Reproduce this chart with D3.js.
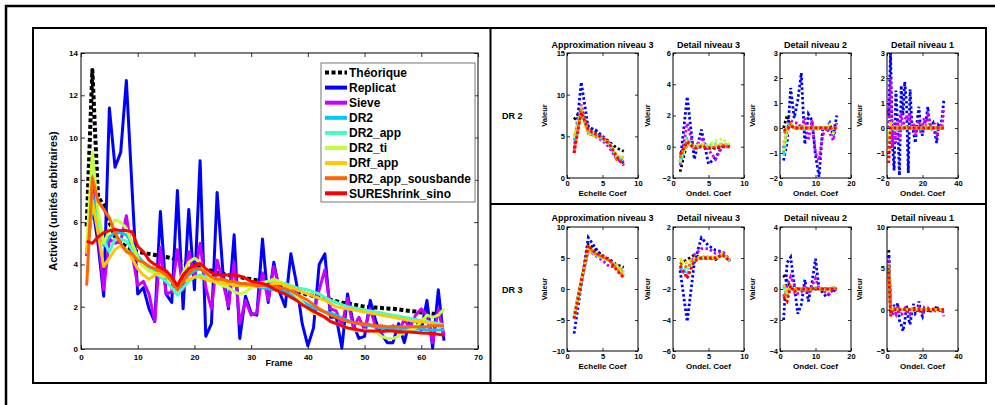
<!DOCTYPE html>
<html><head><meta charset="utf-8">
<script src="https://cdn.jsdelivr.net/npm/d3@7/dist/d3.min.js"></script>
<style>
body{margin:0;background:#fff;}
svg{display:block;font-family:"Liberation Sans",Arial,Helvetica,sans-serif;font-weight:bold;}
</style></head><body>
<svg id="c" width="995" height="405"></svg>
<script>
// ---------- DATA ----------
const seriesNames = ["Théorique","Replicat","Sieve","DR2","DR2_app","DR2_ti","DRf_app","DR2_app_sousbande","SUREShrink_sino"];
const seriesColors = ["#000000","#0000FF","#C800FF","#00C8FF","#40FFC8","#C0FF40","#FFC800","#FF6400","#FF0000"];
const xTicksMain = [0,10,20,30,40,50,60,70];
const yTicksMain = [0,2,4,6,8,10,12,14];

const theorique = [5.8,13.2,7.2,6.8,6.0,5.3,5.0,4.85,4.7,4.6,
 4.55,4.5,4.45,4.4,4.35,4.3,4.2,4.1,4.0,3.9,
 3.85,3.75,3.7,3.6,3.55,3.5,3.45,3.4,3.35,3.3,
 3.25,3.2,3.17,3.1,3.0,2.95,2.85,2.75,2.65,2.57,
 2.5,2.45,2.38,2.32,2.26,2.2,2.15,2.1,2.05,2.0,
 1.98,1.96,1.94,1.92,1.9,1.87,1.83,1.8,1.77,1.73,
 1.7,1.67,1.64,1.62];
const replicat = [4.4,6.8,5.0,2.5,11.4,8.6,9.3,12.7,7.6,2.6,
 2.9,1.9,1.3,6.5,2.6,2.2,7.5,1.9,6.6,2.8,
 8.9,0.6,1.2,7.4,3.7,1.9,5.4,0.5,2.5,1.7,
 1.6,5.2,2.2,4.1,2.7,2.0,4.5,3.1,1.2,0.15,
 1.0,4.0,4.5,1.5,1.5,0.05,2.6,1.2,0.5,0.6,
 2.3,1.3,0.7,0.3,0.3,1.2,0.3,1.4,1.4,0.9,
 2.3,0.05,2.8,0.4];
const sieve = [4.4,8.2,5.6,2.8,5.2,5.0,5.1,6.3,4.5,3.0,
 3.2,2.6,1.3,4.8,2.6,2.7,4.7,2.8,4.6,3.4,
 5.0,2.9,1.9,4.2,3.2,2.0,4.1,1.2,2.3,1.6,
 1.7,3.6,2.3,3.9,2.9,2.6,2.8,2.7,2.1,2.0,
 1.7,2.8,3.75,1.9,1.8,1.1,2.4,1.0,1.5,0.9,
 1.9,1.0,0.8,0.9,1.1,0.8,1.4,1.0,1.6,1.9,
 1.6,0.3,1.9,0.6];
const dr2 = [4.5,7.3,6.0,4.9,5.3,5.5,5.5,5.4,5.0,4.4,
 4.1,3.9,3.7,3.6,3.45,3.2,2.8,3.2,3.5,3.7,
 3.8,3.6,3.4,3.3,3.25,3.2,3.15,3.1,3.05,3.0,
 2.95,2.9,2.85,2.8,2.75,2.7,2.55,2.4,2.25,2.1,
 1.95,1.85,1.75,1.7,1.6,1.45,1.35,1.25,1.2,1.15,
 1.1,1.05,1.0,1.0,0.95,0.95,0.95,0.95,0.95,0.95,
 0.9,0.9,0.9,0.9];
const dr2App = [4.6,6.8,6.0,5.1,4.6,5.2,5.2,5.1,4.7,4.3,
 4.0,3.8,3.6,3.4,3.2,2.9,2.55,2.9,3.2,3.4,
 3.5,3.4,3.3,3.2,3.15,3.1,3.05,3.0,3.0,3.0,
 3.1,3.15,3.2,3.2,3.15,3.1,3.0,2.9,2.85,2.8,
 2.7,2.6,2.45,2.3,2.2,2.1,2.0,1.95,1.9,1.85,
 1.8,1.75,1.7,1.65,1.6,1.55,1.5,1.45,1.4,1.35,
 1.3,1.25,1.2,1.15];
const dr2Ti = [4.8,9.3,6.5,5.0,5.6,6.1,6.0,5.7,5.0,4.3,
 3.9,3.7,3.6,3.5,3.4,3.2,3.0,3.6,4.1,4.3,
 4.1,3.6,3.3,3.1,3.0,2.9,2.7,2.6,2.7,2.9,
 3.0,3.1,3.2,3.3,3.2,3.0,2.8,2.5,2.2,1.9,
 1.7,1.6,1.5,1.3,1.2,1.1,1.0,0.9,0.85,0.9,
 0.85,0.8,0.6,0.5,0.5,0.6,0.8,0.9,1.0,1.3,
 1.6,1.5,1.6,1.9];
const drfApp = [4.5,7.0,5.5,3.9,4.3,4.7,4.9,4.7,4.3,3.8,
 3.5,3.3,3.5,3.6,3.5,3.3,3.0,3.2,3.3,3.4,
 3.4,3.3,3.2,3.2,3.1,3.1,3.0,3.0,3.0,3.0,
 3.0,2.95,3.0,3.1,3.1,3.0,2.95,2.8,2.7,2.6,
 2.5,2.4,2.3,2.15,2.0,1.95,1.9,1.85,1.8,1.75,
 1.7,1.65,1.6,1.55,1.5,1.45,1.4,1.35,1.3,1.3,
 1.25,1.2,1.1,1.05];
const dr2AppSousbande = [3.0,8.1,7.0,6.6,6.2,5.5,5.0,4.6,4.5,4.2,
 4.1,3.9,3.8,3.7,3.5,3.2,2.8,3.2,3.6,3.8,
 3.8,3.6,3.4,3.3,3.3,3.2,3.2,3.1,3.1,3.05,
 3.0,3.0,3.0,2.95,2.9,2.85,2.75,2.6,2.45,2.3,
 2.1,1.9,1.75,1.6,1.5,1.4,1.3,1.25,1.2,1.2,
 1.15,1.1,1.1,1.05,1.05,1.05,1.05,1.05,1.05,1.05,
 1.05,1.1,1.1,1.1];
const sureShrinkSino = [5.1,5.0,5.3,5.5,5.6,5.65,5.6,5.6,5.55,4.86,
 4.6,4.2,4.0,3.85,3.7,3.4,3.0,3.5,3.8,3.95,
 4.05,3.8,3.6,3.5,3.5,3.5,3.5,3.45,3.35,3.2,
 3.15,3.1,3.0,2.85,2.7,2.6,2.45,2.3,2.1,1.94,
 1.78,1.65,1.5,1.3,1.2,1.1,1.0,0.95,0.9,0.85,
 0.85,0.85,0.85,0.85,0.85,0.8,0.8,0.8,0.78,0.76,
 0.74,0.72,0.7,0.65];

// subplot data: rows in legend order (Théorique, Replicat, Sieve, DR2, DR2_app, DR2_ti, DRf_app, DR2_app_sousbande, SUREShrink_sino)
const dr2Approx3 = [
 [7.0,8.2,6.2,5.6,5.0,4.3,3.6,3.2],
 [3.0,11.5,6.0,5.8,5.0,4.2,2.3,1.8],
 [3.5,8.8,5.4,5.0,4.5,3.6,2.3,2.0],
 [4.5,8.0,5.6,5.2,4.8,4.1,2.4,2.2],
 [5.0,7.8,5.5,5.1,4.7,4.0,2.5,2.3],
 [4.8,8.2,5.8,5.3,4.9,4.2,2.8,2.4],
 [5.0,7.6,5.3,5.0,4.8,4.1,2.6,2.5],
 [3.2,7.9,5.7,5.2,4.9,4.2,2.2,1.7],
 [3.0,7.9,5.8,5.3,4.8,4.0,2.6,1.5]];
const dr2Detail3 = [
 [-1.6,0.3,0.0,0.1,0.0,-0.1,0.0,0.1],
 [-1.0,3.2,-0.8,1.1,-1.1,-0.7,0.1,0.1],
 [-1.2,1.5,-0.2,0.6,-0.2,-0.8,0.1,0.0],
 [-1.1,0.5,0.0,0.1,0.0,0.1,0.2,0.0],
 [-0.9,0.4,-0.1,0.1,0.1,0.2,0.1,0.0],
 [-1.0,0.3,0.0,0.2,0.1,0.4,0.5,0.1],
 [-0.6,0.2,0.0,0.1,0.0,0.1,0.2,0.1],
 [-0.7,0.4,-0.1,0.0,-0.1,0.0,0.1,0.0],
 [-0.5,0.3,-0.1,0.0,-0.1,-0.1,0.0,0.0]];
const dr2Detail2 = [
 [0.0,0.5,0.1,0,0,0,0,0,0,0,0,0,0,0,0,0],
 [-1.3,-0.6,1.6,0.4,1.1,2.2,-0.65,0.55,0.3,-1.1,-1.95,-0.05,0.0,0.2,-0.3,0.5],
 [-0.8,-0.1,0.3,0.2,0.2,0.0,0.4,-0.5,0.3,-1.0,-1.3,-0.3,0.0,-0.2,-0.5,0.2],
 [-1.0,0.1,0.2,0,0.05,0,-0.05,0,0,-0.05,0,0,0,0.05,-0.1,0.1],
 [-1.1,0,0.1,0,0,0.05,0,0,-0.05,0,0,0,0,0.1,-0.1,0.05],
 [-0.9,-0.2,0.2,0.1,0,0,0.05,-0.05,0,0,-0.1,0,0.05,0.15,-0.2,0.1],
 [-0.6,0,0.1,0,0,0,0,0,0,0,0,0,0,0.05,0,0],
 [-0.2,-0.1,0.15,0,0,0,0,0,0,0,0,0,0,0,-0.05,0],
 [-0.1,-0.05,0.1,0,0,0,0,0,0,0,0,0,0,0,0,0]];
const dr2Detail1 = [
 [0.7,0,0,0,0,0,0,0,0,0,0,0,0,0,0,0,0,0,0,0,0,0,0,0,0,0,0,0,0,0,0,0],
 [0.5,3.0,-0.5,-1.7,1.5,0.2,-1.9,1.7,0.5,1.85,1.0,-1.8,1.55,0.2,-0.2,-0.6,0.3,0.85,-0.1,-0.3,0.2,0.3,0.85,0.0,0.1,0.2,-0.2,-0.6,0.1,0.0,0.4,1.1],
 [0.0,2.0,-0.8,0.2,-0.6,0.3,-0.5,0.6,0.1,0.3,0.5,0.3,0.6,0.0,0.2,-0.3,0.1,0.3,-0.2,0.1,0.4,0.1,0.5,0.3,0.0,-0.1,0.2,-0.4,0.0,0.1,0.0,0.8],
 [-0.8,0.1,-0.05,0,0.05,0,-0.05,0,0,0.05,0,-0.05,0,0,0.05,0,0,0,-0.05,0,0,0.05,0,0,0,0,-0.05,0,0,0,0,0.05],
 [-0.6,0.05,0,-0.05,0,0.05,0,0,-0.05,0,0.05,0,0,-0.05,0,0,0.05,0,0,0,-0.05,0,0,0.05,0,0,0,-0.05,0,0,0,0],
 [-0.5,0.15,-0.1,0,0.05,-0.05,0,0.1,0,0.05,0,-0.1,0.05,0,0,-0.05,0,0.05,0,0,0.05,0,0.1,0,0,-0.05,0,-0.1,0,0,0,0.1],
 [-1.0,0.3,0,0,0,0,0,0,0,0,0,0,0,0,0,0,0,0,0,0,0,0,0,0,0,0,0,0,0,0,0,0],
 [-1.2,0.05,0,0,0,0,0,0,0,0,0,0,0,0,0,0,0,0,0,0,0,0,0,0,0,0,0,0,0,0,0,0],
 [-1.4,0,0,0,0,0,0,0,0,0,0,0,0,0,0,0,0,0,0,0,0,0,0,0,0,0,0,0,0,0,0,0]];
const dr3Approx3 = [
 [-4.5,1.2,7.2,6.3,5.4,4.7,3.9,3.5],
 [-7.2,0.5,8.3,6.6,5.2,4.8,3.8,2.5],
 [-4.5,1.0,6.2,5.4,4.6,3.6,3.7,2.8],
 [-4.6,1.1,6.6,5.6,5.0,4.5,3.4,2.1],
 [-4.7,1.0,6.5,5.5,5.0,4.4,3.6,2.2],
 [-4.4,1.3,6.9,5.8,5.2,4.6,3.8,2.4],
 [-4.8,1.0,6.3,5.5,5.1,4.5,3.9,2.6],
 [-4.7,1.1,6.8,5.7,5.2,4.6,3.2,1.9],
 [-4.8,1.2,7.0,5.8,5.3,4.7,3.0,1.8]];
const dr3Detail3 = [
 [-0.4,-0.1,0.2,0.0,0.0,-0.1,0.3,-0.1],
 [-0.8,-4.1,-0.3,1.3,0.8,0.5,0.4,-0.2],
 [-0.6,-1.2,0.2,0.6,0.6,0.3,0.4,-0.2],
 [-0.6,-1.0,-0.2,0.0,0.0,0.0,0.2,-0.2],
 [-0.5,-0.8,-0.1,0.0,0.1,0.0,0.2,-0.2],
 [0.0,-0.7,-0.1,0.1,0.1,0.0,0.3,-0.1],
 [-0.2,-0.3,0.0,0.1,0.0,0.0,0.2,-0.1],
 [-0.4,-0.6,-0.1,0.0,0.0,0.0,0.2,-0.2],
 [-0.5,-1.3,-0.2,0.0,0.0,0.0,0.2,-0.2]];
const dr3Detail2 = [
 [0.9,0.5,0.1,0,0,0,0,0,0,0,0,0,0,0,0,0],
 [-2.0,1.7,2.05,0.3,-1.6,-1.0,0.6,-0.8,0.4,1.95,0.0,-0.2,-0.5,-0.3,0.0,-0.3],
 [-0.5,0.2,0.8,0.3,-0.3,-0.2,0.1,-0.3,0.2,0.7,0.0,0.0,-0.3,-0.3,0.1,-0.1],
 [0.2,-0.4,0.1,0,0.05,0,-0.05,0,0,0.1,0,0,-0.05,0,0.1,-0.05],
 [0.1,-0.3,0.15,-0.05,0,0,0,0,0.05,0.1,0,0,0,-0.05,0.15,-0.05],
 [0.3,-0.4,0.2,-0.1,0,0.05,0,-0.05,0,0.1,0,0,-0.1,-0.1,0.2,-0.1],
 [0.3,-0.1,0.1,0,0,0,0,0,0,0.05,0,0,0,0,0.1,0],
 [-0.3,-0.5,0.2,-0.1,0,0,0,0,0,0.05,0,0,0,0,0.05,0],
 [-0.5,-0.8,0.2,-0.2,0,0,0,0,0,0.05,0,0,0,0,0,0]];
const dr3Detail1 = [
 [7.2,0,0,0,0,0,0,0,0,0,0,0,0,0,0,0,0,0,0,0,0,0,0,0,0,0,0,0,0,0,0,0],
 [6.5,0.5,-0.3,0.6,-0.5,0.8,-1.3,-1.8,-2.6,-1.5,0.5,-1.0,-1.8,-0.3,0.7,-0.5,-0.3,1.0,-0.3,-0.8,0.1,-0.3,0.2,-0.4,0.1,0.0,-0.1,0.5,-0.2,0.0,0.1,-0.5],
 [6.0,0.3,-0.8,0.0,-0.5,0.5,-0.5,-0.6,-0.4,0.4,-0.3,-0.2,-0.5,0.2,0.1,-0.3,0.0,0.3,-0.2,-0.3,0.1,0.0,0.2,-0.1,0.0,0.1,-0.1,0.3,-0.2,0.0,0.1,-0.8],
 [5.2,-0.3,0,0.05,0,0,-0.05,0,0,0,0.05,0,0,0,0,0,0,0.05,0,0,0,0,0,0,0,0,0,0,0,0,0,-0.05],
 [5.4,-0.4,0.05,0,0,0,0,-0.05,0,0,0,0,0,0.05,0,0,0,0,0,0,0,0,0,0,0,0,0,0,0,0,0,0],
 [5.6,-0.2,0,0,0.05,0,0,0,-0.05,0,0,0,0,0,0,0.05,0,0,0,0,0,0,0,0,0,0,0,0,0,0,0,0],
 [5.0,-0.1,0,0,0,0,0,0,0,0,0,0,0,0,0,0,0,0,0,0,0,0,0,0,0,0,0,0,0,0,0,0],
 [5.5,-0.6,0,0,0,0,0,0,0,0,0,0,0,0,0,0,0,0,0,0,0,0,0,0,0,0,0,0,0,0,0,0],
 [4.6,-0.8,0,0,0,0,0,0,0,0,0,0,0,0,0,0,0,0,0,0,0,0,0,0,0,0,0,0,0,0,0,0]];

const subTitles = ["Approximation niveau 3","Detail niveau 3","Detail niveau 2","Detail niveau 1"];
const subXLabels = ["Echelle Coef","Ondel. Coef","Ondel. Coef","Ondel. Coef"];
const rowLabels = ["DR 2","DR 3"];
const subXDomains = [[0,10],[0,10],[0,20],[0,40]];
const subXTicks = [[0,5,10],[0,5,10],[0,10,20],[0,20,40]];
const dr2YDomains = [[0,15],[-2,6],[-2,3],[-2,3]];
const dr2YTicks = [[0,5,10,15],[-2,0,2,4,6],[-2,-1,0,1,2,3],[-2,-1,0,1,2,3]];
const dr3YDomains = [[-10,10],[-6,2],[-4,4],[-5,10]];
const dr3YTicks = [[-10,-5,0,5,10],[-6,-4,-2,0,2],[-4,-2,0,2,4],[-5,0,5,10]];

// ---------- DRAW ----------
const svg = d3.select("#c");
const minus = s => String(s).replace("-", "\u2212");

// outer frames
svg.append("path").attr("d","M6,405V6H995").attr("fill","none").attr("stroke","#000").attr("stroke-width",2.5);
svg.append("rect").attr("x",33).attr("y",28).attr("width",953).attr("height",355)
  .attr("fill","none").attr("stroke","#000").attr("stroke-width",2);
svg.append("line").attr("x1",490.5).attr("x2",490.5).attr("y1",28).attr("y2",383).attr("stroke","#000").attr("stroke-width",2);
svg.append("line").attr("x1",490).attr("x2",986).attr("y1",204).attr("y2",204).attr("stroke","#000").attr("stroke-width",2);

function boxAxes(g, x, y, xticks, yticks, fs, tickLen, padX, padY) {
  const [x0,x1] = x.range(), [y0,y1] = y.range();
  g.append("g").attr("transform",`translate(0,${y0})`)
    .call(d3.axisBottom(x).tickValues(xticks).tickSize(-tickLen).tickSizeOuter(0).tickPadding(padX).tickFormat(minus));
  g.append("g").attr("transform",`translate(0,${y1})`)
    .call(d3.axisTop(x).tickValues(xticks).tickSize(-tickLen).tickSizeOuter(0).tickFormat(""));
  g.append("g").attr("transform",`translate(${x0},0)`)
    .call(d3.axisLeft(y).tickValues(yticks).tickSize(-tickLen).tickSizeOuter(0).tickPadding(padY).tickFormat(minus));
  g.append("g").attr("transform",`translate(${x1},0)`)
    .call(d3.axisRight(y).tickValues(yticks).tickSize(-tickLen).tickSizeOuter(0).tickFormat(""));
  g.selectAll(".domain").remove();
  g.selectAll(".tick line").attr("stroke","#000").attr("stroke-width",0.8);
  g.selectAll(".tick text").attr("fill","#000").attr("font-size",fs).attr("font-weight","bold")
    .attr("font-family","'Liberation Sans',Arial,sans-serif");
  g.append("rect").attr("x",x0).attr("y",y1).attr("width",x1-x0).attr("height",y0-y1)
    .attr("fill","none").attr("stroke","#000").attr("stroke-width",1);
}

// ---- main chart ----
const mainSeries = [theorique,replicat,sieve,dr2,dr2App,dr2Ti,drfApp,dr2AppSousbande,sureShrinkSino];
const xM = d3.scaleLinear().domain([0,70]).range([81,478]);
const yM = d3.scaleLinear().domain([0,14]).range([349,53]);
const gM = svg.append("g");
const lineM = d3.line().x((d,i)=>xM(i+1)).y(d=>yM(d));
const gLines = gM.append("g");
mainSeries.forEach((s,k)=>{
  gLines.append("path").datum(s).attr("d",lineM).attr("fill","none")
    .attr("stroke",seriesColors[k])
    .attr("stroke-width", k===0?4:3)
    .attr("stroke-dasharray", k===0?"4,2.5":null)
    .attr("stroke-linejoin","round");
});
boxAxes(gM, xM, yM, xTicksMain, yTicksMain, 8, 4, 5, 3);
gM.append("text").attr("x",279).attr("y",366).attr("text-anchor","middle").attr("font-size",9).text("Frame");
gM.append("text").attr("transform","translate(57,201) rotate(-90)").attr("text-anchor","middle")
  .attr("font-size",11).text("Activité (unités arbitraires)");

// legend
const lg = gM.append("g");
lg.append("rect").attr("x",321).attr("y",63).attr("width",154).attr("height",139)
  .attr("fill","#fff").attr("stroke","#777").attr("stroke-width",1);
seriesNames.forEach((n,k)=>{
  const yy = 72.5 + k*15.1;
  lg.append("line").attr("x1",325).attr("x2",347).attr("y1",yy).attr("y2",yy)
    .attr("stroke",seriesColors[k]).attr("stroke-width",4)
    .attr("stroke-dasharray", k===0?"4,2.5":null);
  lg.append("text").attr("x",349).attr("y",yy).attr("dy","0.36em").attr("font-size",12).text(n);
});

// ---- subplots ----
const subLefts = [567,673,780,887];
const subW = 71;
const rows = [
  {top:53,bottom:178,data:[dr2Approx3,dr2Detail3,dr2Detail2,dr2Detail1],yd:dr2YDomains,yt:dr2YTicks,label:rowLabels[0],titleY:48,labelY:119},
  {top:227,bottom:351,data:[dr3Approx3,dr3Detail3,dr3Detail2,dr3Detail1],yd:dr3YDomains,yt:dr3YTicks,label:rowLabels[1],titleY:221,labelY:293}
];
const valeurOffsets = [20,23,25,25];
rows.forEach(r=>{
  svg.append("text").attr("x",502).attr("y",r.labelY).attr("font-size",9).text(r.label);
  r.data.forEach((sub,j)=>{
    const g = svg.append("g");
    const x = d3.scaleLinear().domain(subXDomains[j]).range([subLefts[j],subLefts[j]+subW]);
    const y = d3.scaleLinear().domain(r.yd[j]).range([r.bottom,r.top]);
    const ln = d3.line().x((d,i)=>x(i+1)).y(d=>y(d));
    sub.forEach((s,k)=>{
      g.append("path").datum(s).attr("d",ln).attr("fill","none")
        .attr("stroke",seriesColors[k]).attr("stroke-width",2.8)
        .attr("stroke-dasharray","2.5,2.3");
    });
    boxAxes(g, x, y, subXTicks[j], r.yt[j], 7.5, 3, 3, 2);
    g.append("text").attr("x",subLefts[j]+subW/2).attr("y",r.titleY).attr("text-anchor","middle")
      .attr("font-size",9).text(subTitles[j]);
    g.append("text").attr("x",subLefts[j]+subW/2).attr("y",r.bottom+18).attr("text-anchor","middle")
      .attr("font-size",8).text(subXLabels[j]);
    g.append("text").attr("transform",`translate(${subLefts[j]-valeurOffsets[j]},${(r.top+r.bottom)/2}) rotate(-90)`)
      .attr("text-anchor","middle").attr("font-size",7.5).text("Valeur");
  });
});
</script>
</body></html>
